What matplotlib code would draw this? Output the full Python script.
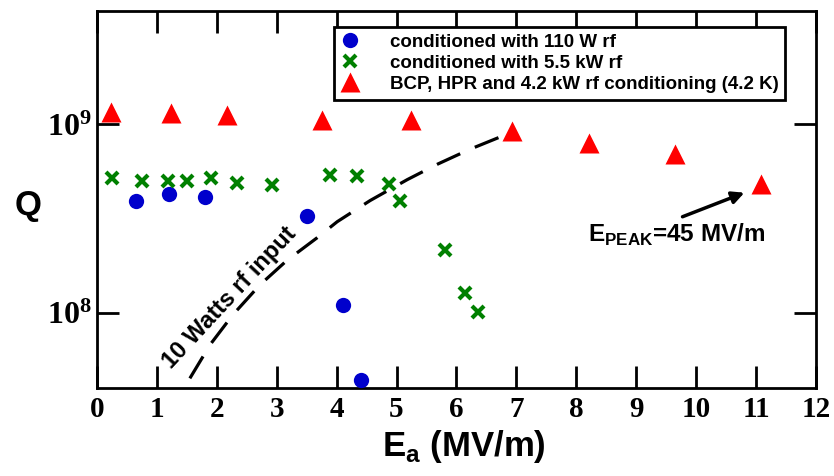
import matplotlib
matplotlib.use("Agg")
import matplotlib.pyplot as plt

###############################
### data

# conditioned with 110 W rf
e_110w = [0.65, 1.20, 1.80, 3.50, 4.11, 4.41]
q_110w = [3.95e8, 4.3e8, 4.1e8, 3.25e8, 1.1e8, 4.4e7]

# conditioned with 5.5 kW rf
e_55kw = [0.25, 0.75, 1.19, 1.50, 1.90, 2.34, 2.92, 3.89, 4.34, 4.87, 5.06, 5.81, 6.14, 6.36]
q_55kw = [5.2e8, 5.04e8, 5.04e8, 5.04e8, 5.2e8, 4.9e8, 4.8e8, 5.4e8, 5.3e8, 4.85e8,
          3.95e8, 2.16e8, 1.28e8, 1.01e8]

# BCP, HPR and 4.2 kW rf conditioning (4.2 K)
e_bcp = [0.23, 1.24, 2.17, 3.76, 5.24, 6.93, 8.21, 9.65, 11.09]
q_bcp = [1.16e9, 1.15e9, 1.12e9, 1.06e9, 1.05e9, 9.2e8, 8.0e8, 7.0e8, 4.85e8]

# 10 W rf input curve
e_10w = [1.55, 1.89, 2.27, 2.72, 3.17, 3.67, 4.01, 4.56, 5.18, 5.68, 6.23, 6.98]
q_10w = [4.5e7, 6.8e7, 9.8e7, 1.41e8, 1.9e8, 2.5e8, 3.05e8, 3.95e8, 5.1e8, 6.15e8, 7.4e8, 9.25e8]

x_ticks = list(range(0, 13))
y_ticks = [1e8, 1e9]
y_tick_labels = [r'$\mathrm{10^{8}}$', r'$\mathrm{10^{9}}$']

###############################
### style

plt.rcParams['font.family'] = 'Liberation Sans'
plt.rcParams['font.weight'] = 'bold'
plt.rcParams['mathtext.fontset'] = 'custom'
plt.rcParams['mathtext.rm'] = 'Liberation Serif:bold'
plt.rcParams['mathtext.sf'] = 'Liberation Sans:bold'

fig = plt.figure(figsize=(8.34, 4.76), dpi=100)
ax = fig.add_axes([0.1163, 0.1849, 0.862, 0.792])

ax.plot(e_10w, q_10w, color='black', lw=2.3, dashes=(8, 5), zorder=2)

ax.plot(e_110w, q_110w, 'o', color='#0000cc', ms=11, mec='none',
        label='conditioned with 110 W rf', zorder=3)
ax.plot(e_55kw, q_55kw, 'x', color='#008000', ms=9, mew=3,
        label='conditioned with 5.5 kW rf', zorder=3)
ax.plot(e_bcp, q_bcp, '^', color='#ff0000', ms=14, mec='none',
        label='BCP, HPR and 4.2 kW rf conditioning (4.2 K)', zorder=3)

ax.set_yscale('log')
ax.set_xlim(0, 12)
ax.set_ylim(4e7, 4e9)

ax.set_xticks(x_ticks)
ax.set_xticklabels([str(v) for v in x_ticks], family='Liberation Serif',
                   fontweight='bold', fontsize=21)
ax.set_yticks(y_ticks)
ax.set_yticklabels(y_tick_labels, fontsize=23)
ax.yaxis.set_minor_locator(matplotlib.ticker.NullLocator())

ax.tick_params(which='major', direction='in', length=16, width=2,
               top=True, right=True, pad=6)
ax.tick_params(axis='y', pad=4)
for sp in ax.spines.values():
    sp.set_linewidth(2)

ax.set_xlabel(r'E$_\mathsf{a}$ (MV/m)', fontsize=25, fontweight='bold', va='top')
ax.xaxis.set_label_coords(0.51, -0.105)
ax.set_ylabel('Q', fontsize=25, fontweight='bold', rotation=0, va='center', ha='center')
ax.yaxis.set_label_coords(-0.096, 0.485)

leg = ax.legend(loc='upper right', bbox_to_anchor=(0.957, 0.958), fontsize=13.5,
                frameon=True, fancybox=False, edgecolor='black', framealpha=1,
                handlelength=1.0, handletextpad=1.6, borderpad=0.35,
                labelspacing=0.22, borderaxespad=0)
leg.get_frame().set_linewidth(2)

ax.text(2.22, 1.2e8, '10 Watts rf input', rotation=47, rotation_mode='anchor',
        ha='center', va='center', fontsize=17, fontweight='bold')

ax.annotate('', xy=(10.85, 4.4e8), xytext=(9.73, 3.2e8),
            arrowprops=dict(arrowstyle='-|>', color='black', lw=2.5,
                            mutation_scale=18))
ax.text(8.2, 2.39e8, r'E$_\mathsf{PEAK}$=45 MV/m', fontsize=17.5,
        fontweight='bold', ha='left', va='baseline')

fig.savefig('out.png', dpi=100)
